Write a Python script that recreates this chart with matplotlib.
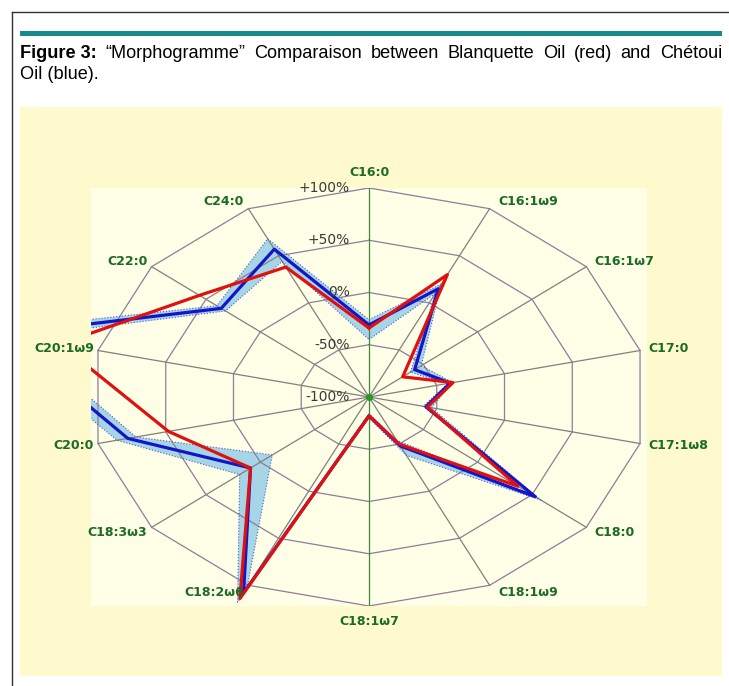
import matplotlib.pyplot as plt
import numpy as np
from matplotlib.patches import Rectangle, PathPatch
from matplotlib.path import Path
from matplotlib.lines import Line2D

# fatty acids, clockwise from the top
acids = ['C16:0', 'C16:1ω9', 'C16:1ω7', 'C17:0', 'C17:1ω8', 'C18:0', 'C18:1ω9',
         'C18:1ω7', 'C18:2ω6', 'C18:3ω3', 'C20:0', 'C20:1ω9', 'C22:0', 'C24:0']
ring_values = [-100, -50, 0, 50, 100]
ring_labels = ['-100%', '-50%', '0%', '+50%', '+100%']

# deviation in %
blanquette = [-34, 30, -69, -38, -57, 37, -50, -82, 114, 9, 48, 128, 56, 38]
chetoui = [-31, 15, -58, -40, -58, 53, -48, -82, 108, 9, 78, 170, 36, 57]
chetoui_min = [-45, 10, -62, -42, -60, 50, -54, -84, 102, -11, 72, 158, 32, 44]
chetoui_max = [-26, 20, -52, -38, -54, 58, -38, -80, 118, 19, 86, 184, 40, 68]

W, H = 729, 686
fig = plt.figure(figsize=(W / 100, H / 100), dpi=100)
fig.patch.set_facecolor('white')


def fx(px):
    return px / W


def fy(py):
    return 1 - py / H


# page frame, teal rule and caption
fig.add_artist(Line2D([fx(12), 1], [fy(12), fy(12)], color='#333333', lw=1))
fig.add_artist(Line2D([fx(12), fx(12)], [fy(12), 0], color='#333333', lw=1))
fig.add_artist(Rectangle((fx(20), fy(36)), fx(722) - fx(20), 5 / H,
                         color='#178a8c', lw=0))

cap_font = 'Liberation Sans'
cap_size = 13.1
line1 = ['Figure 3:', '“Morphogramme”', 'Comparaison', 'between', 'Blanquette',
         'Oil', '(red)', 'and', 'Chétoui']
words = []
for k, w in enumerate(line1):
    words.append(fig.text(0, fy(58), w, fontsize=cap_size, family=cap_font,
                          weight='bold' if k == 0 else 'normal', va='baseline'))
fig.canvas.draw()
widths = [t.get_window_extent().width for t in words]
gap = (702 - sum(widths)) / (len(words) - 1)
x = 20
for t, w in zip(words, widths):
    t.set_x(fx(x))
    x += w + gap
fig.text(fx(20), fy(79), 'Oil (blue).', fontsize=cap_size, family=cap_font, va='baseline')

# yellow panel behind the chart
fig.add_artist(Rectangle((fx(20), fy(676)), fx(722) - fx(20), (676 - 107) / H,
                         color='#fffacd', lw=0, zorder=0))

ax = fig.add_axes([fx(91), fy(606), fx(647) - fx(91), (606 - 188) / H])
ax.set_xlim(-1, 1)
ax.set_ylim(-1, 1)
ax.axis('off')
ax.add_patch(Rectangle((-1, -1), 2, 2, color='#fffee6', lw=0, zorder=0))

n = len(acids)
theta = np.arange(n) * 2 * np.pi / n


def to_xy(vals):
    r = (np.asarray(vals, dtype=float) + 100) / 200
    return r * np.sin(theta), r * np.cos(theta)


def closed(a):
    return np.append(a, a[0])


# grid
for v in ring_values[1:]:
    gx, gy = to_xy([v] * n)
    ax.plot(closed(gx), closed(gy), color='#8e7e96', lw=0.9, zorder=2)
ox, oy = to_xy([100] * n)
for i in range(n):
    col = '#3d8a3d' if i in (0, 7) else '#808080'
    ax.plot([0, ox[i]], [0, oy[i]], color=col, lw=0.9, zorder=2)

# chetoui min/max band
lx, ly = to_xy(chetoui_min)
hx, hy = to_xy(chetoui_max)
verts = list(zip(closed(hx), closed(hy))) + list(zip(closed(lx)[::-1], closed(ly)[::-1]))
codes = ([Path.MOVETO] + [Path.LINETO] * (n - 1) + [Path.CLOSEPOLY]) * 2
ax.add_patch(PathPatch(Path(verts, codes), facecolor='#a6d6e6', lw=0, zorder=1))
ax.plot(closed(hx), closed(hy), color='#4a5ad6', lw=0.8, ls=':', zorder=3)
ax.plot(closed(lx), closed(ly), color='#4a5ad6', lw=0.8, ls=':', zorder=3)

bx, by = to_xy(chetoui)
ax.plot(closed(bx), closed(by), color='#1414c8', lw=2.3, zorder=4)
rx, ry = to_xy(blanquette)
ax.plot(closed(rx), closed(ry), color='#e01010', lw=2.3, zorder=5)

ax.plot(0, 0, 'o', color='#1f9a1f', ms=4, zorder=6)

# radial scale
for v, lab in zip(ring_values, ring_labels):
    r = (v + 100) / 200
    ax.text(-0.07, r, lab, ha='right', va='center', fontsize=10,
            color='#3a3a3a', zorder=7, clip_on=False)

# axis labels
for i, lab in enumerate(acids):
    s, c = np.sin(theta[i]), np.cos(theta[i])
    if abs(s) < 0.1:
        ha, dx, dy = 'center', 0, 11 * np.sign(c)
    elif s > 0:
        ha, dx, dy = 'left', 6, 6 * c
    else:
        ha, dx, dy = 'right', -3, 6 * c
    ax.annotate(lab, xy=(ox[i], oy[i]), xytext=(dx, dy), textcoords='offset points',
                ha=ha, va='center', fontsize=9, weight='bold', color='#1b6b25',
                annotation_clip=False, zorder=7)

fig.savefig('out.png', dpi=100)
